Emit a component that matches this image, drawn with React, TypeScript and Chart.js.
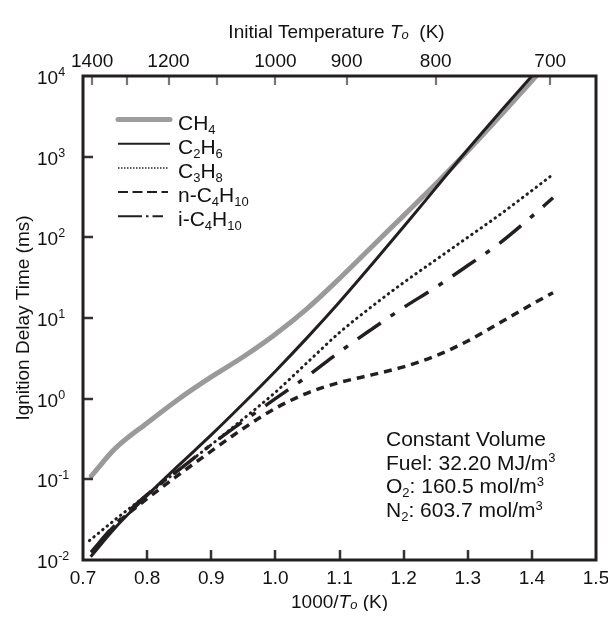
import React, { useEffect, useRef } from 'react';
import { Chart, registerables } from 'chart.js';

Chart.register(...registerables);

// ---- axes ----
const xTicks = [0.7, 0.8, 0.9, 1.0, 1.1, 1.2, 1.3, 1.4, 1.5];
const yTicks = [0.01, 0.1, 1, 10, 100, 1000, 10000];
const yExponents = ['-2', '-1', '0', '1', '2', '3', '4'];
const topTempTicks = [1400, 1300, 1200, 1100, 1000, 900, 800, 700];
const topTempLabels = [1400, 1200, 1000, 900, 800, 700];

// ---- series (x = 1000/T0, y = ignition delay in ms) ----
const ch4X = [0.713, 0.75, 0.8, 0.85, 0.9, 0.95, 1.0, 1.05, 1.1, 1.15, 1.2, 1.25, 1.3, 1.35, 1.4, 1.42];
const ch4Y = [0.11, 0.24, 0.5, 1.0, 1.86, 3.31, 6.3, 13.2, 30.9, 75.9, 186, 457, 1175, 3162, 8710, 13180];

const c2h6X = [0.712, 0.75, 0.8, 0.85, 0.9, 0.95, 1.0, 1.05, 1.1, 1.15, 1.2, 1.25, 1.3, 1.35, 1.4, 1.41];
const c2h6Y = [0.011, 0.025, 0.063, 0.151, 0.355, 0.87, 2.19, 5.75, 15.8, 45.7, 135, 407, 1230, 3548, 10000, 12300];

const c3h8X = [0.71, 0.75, 0.8, 0.85, 0.9, 0.95, 1.0, 1.05, 1.1, 1.15, 1.2, 1.25, 1.3, 1.35, 1.4, 1.433];
const c3h8Y = [0.0174, 0.0316, 0.0646, 0.132, 0.269, 0.562, 1.2, 2.82, 6.6, 13.8, 27.5, 52.5, 100, 191, 380, 603];

const nC4X = [0.713, 0.75, 0.8, 0.85, 0.9, 0.95, 1.0, 1.05, 1.1, 1.15, 1.2, 1.25, 1.3, 1.35, 1.4, 1.433];
const nC4Y = [0.0123, 0.0269, 0.0575, 0.115, 0.224, 0.427, 0.759, 1.175, 1.585, 1.97, 2.48, 3.39, 5.19, 8.71, 14.8, 20.6];

const iC4X = [0.713, 0.75, 0.8, 0.85, 0.9, 0.95, 1.0, 1.05, 1.1, 1.15, 1.2, 1.25, 1.3, 1.35, 1.4, 1.433];
const iC4Y = [0.0126, 0.0275, 0.0646, 0.132, 0.269, 0.525, 1.0, 1.9, 3.8, 7.24, 13.5, 24, 44.7, 85, 182, 309];

const FONT = '"Liberation Sans", Arial, Helvetica, sans-serif';
const INK = '#231f20';

type Seg = { t: string; size: number; dy?: number; italic?: boolean };

function segFont(s: Seg) {
  return `${s.italic ? 'italic ' : ''}${s.size}px ${FONT}`;
}
function richWidth(ctx: CanvasRenderingContext2D, segs: Seg[]) {
  let w = 0;
  for (const s of segs) {
    ctx.font = segFont(s);
    w += ctx.measureText(s.t).width;
  }
  return w;
}
function drawRich(ctx: CanvasRenderingContext2D, x: number, y: number, segs: Seg[], align: 'left' | 'center' | 'right') {
  const w = richWidth(ctx, segs);
  let cx = align === 'left' ? x : align === 'center' ? x - w / 2 : x - w;
  ctx.textAlign = 'left';
  ctx.textBaseline = 'alphabetic';
  for (const s of segs) {
    ctx.font = segFont(s);
    ctx.fillText(s.t, cx, y + (s.dy || 0));
    cx += ctx.measureText(s.t).width;
  }
}

const M = 21; // annotation / legend font
const S = 13; // sub/superscript font

const legendItems: { segs: Seg[]; color: string; width: number; dash: number[]; end: number; cap: CanvasLineCap }[] = [
  { segs: [{ t: 'CH', size: M }, { t: '4', size: S, dy: 4 }], color: '#9d9d9d', width: 5, dash: [], end: 162, cap: 'round' },
  { segs: [{ t: 'C', size: M }, { t: '2', size: S, dy: 4 }, { t: 'H', size: M }, { t: '6', size: S, dy: 4 }], color: INK, width: 2, dash: [], end: 162, cap: 'butt' },
  { segs: [{ t: 'C', size: M }, { t: '3', size: S, dy: 4 }, { t: 'H', size: M }, { t: '8', size: S, dy: 4 }], color: INK, width: 1.5, dash: [1.5, 1.5], end: 160, cap: 'butt' },
  { segs: [{ t: 'n-C', size: M }, { t: '4', size: S, dy: 4 }, { t: 'H', size: M }, { t: '10', size: S, dy: 4 }], color: INK, width: 2, dash: [10, 4.5], end: 160, cap: 'butt' },
  { segs: [{ t: 'i-C', size: M }, { t: '4', size: S, dy: 4 }, { t: 'H', size: M }, { t: '10', size: S, dy: 4 }], color: INK, width: 2, dash: [24, 4, 2.5, 4], end: 155, cap: 'butt' },
];

const annotationLines: Seg[][] = [
  [{ t: 'Constant Volume', size: M }],
  [{ t: 'Fuel: 32.20 MJ/m', size: M }, { t: '3', size: S, dy: -7.5 }],
  [{ t: 'O', size: M }, { t: '2', size: S, dy: 4 }, { t: ': 160.5 mol/m', size: M }, { t: '3', size: S, dy: -7.5 }],
  [{ t: 'N', size: M }, { t: '2', size: S, dy: 4 }, { t: ': 603.7 mol/m', size: M }, { t: '3', size: S, dy: -7.5 }],
];

const decorPlugin = {
  id: 'decor',
  afterDraw(chart: any) {
    const ctx: CanvasRenderingContext2D = chart.ctx;
    const { left, right, top, bottom } = chart.chartArea;
    const xs = chart.scales.x;
    const xt = chart.scales.x2;
    const ys = chart.scales.y;
    ctx.save();

    // inward tick marks
    ctx.lineCap = 'butt';
    ctx.strokeStyle = '#333';
    ctx.lineWidth = 2.5;
    ctx.beginPath();
    for (const v of yTicks) {
      if (v === yTicks[0] || v === yTicks[yTicks.length - 1]) continue;
      const py = Math.round(ys.getPixelForValue(v));
      ctx.moveTo(left, py);
      ctx.lineTo(left + 10, py);
    }
    for (const v of xTicks) {
      if (v === xTicks[0] || v === xTicks[xTicks.length - 1]) continue;
      const px = Math.round(xs.getPixelForValue(v));
      ctx.moveTo(px, bottom);
      ctx.lineTo(px, bottom - 10);
    }
    ctx.stroke();
    ctx.strokeStyle = '#777';
    ctx.lineWidth = 2.2;
    ctx.beginPath();
    for (const T of topTempTicks) {
      const px = Math.round(xt.getPixelForValue(1000 / T));
      ctx.moveTo(px, top);
      ctx.lineTo(px, top + 9);
    }
    ctx.stroke();

    // frame
    ctx.strokeStyle = INK;
    ctx.lineWidth = 3;
    ctx.strokeRect(left, top, right - left, bottom - top);

    ctx.fillStyle = '#111';
    // bottom tick labels
    for (const v of xTicks) {
      drawRich(ctx, xs.getPixelForValue(v), 575.5, [{ t: v.toFixed(1), size: 19 }], 'center');
    }
    // top tick labels
    for (const T of topTempLabels) {
      drawRich(ctx, xt.getPixelForValue(1000 / T), 58.7, [{ t: String(T), size: 19 }], 'center');
    }
    // y tick labels
    yTicks.forEach((v, i) => {
      const py = ys.getPixelForValue(v);
      drawRich(ctx, 29, py + 8, [{ t: '10', size: 19 }, { t: yExponents[i], size: 12.5, dy: -8 }], 'left');
    });

    // axis titles
    const cx = (left + right) / 2;
    drawRich(ctx, cx, 600.3, [
      { t: '1000/', size: 19 },
      { t: 'T', size: 19, italic: true },
      { t: 'o', size: 13, italic: true, dy: 1 },
      { t: ' (K)', size: 19 },
    ], 'center');
    drawRich(ctx, cx - 3, 30.3, [
      { t: 'Initial Temperature ', size: 19 },
      { t: 'T', size: 19, italic: true },
      { t: 'o', size: 13, italic: true, dy: 1 },
      { t: '  (K)', size: 19 },
    ], 'center');
    ctx.save();
    ctx.translate(21, (top + bottom) / 2);
    ctx.rotate(-Math.PI / 2);
    drawRich(ctx, 0, 0, [{ t: 'Ignition Delay Time (ms)', size: 19 }], 'center');
    ctx.restore();

    // legend
    legendItems.forEach((it, i) => {
      const base = 121.5 + i * 24.2;
      const ly = base - 10;
      ctx.save();
      ctx.strokeStyle = it.color;
      ctx.lineWidth = it.width;
      ctx.lineCap = it.cap;
      ctx.setLineDash(it.dash);
      ctx.beginPath();
      ctx.moveTo(110, ly);
      ctx.lineTo(it.end, ly);
      ctx.stroke();
      ctx.restore();
      ctx.fillStyle = '#111';
      drawRich(ctx, 170, base, it.segs, 'left');
    });

    // annotation
    annotationLines.forEach((segs, i) => {
      drawRich(ctx, 378, 437.6 + i * 23.9, segs, 'left');
    });

    ctx.restore();
  },
};

function pts(xs: number[], ys: number[]) {
  return xs.map((x, i) => ({ x, y: ys[i] }));
}

export default function App() {
  const ref = useRef<HTMLCanvasElement | null>(null);
  useEffect(() => {
    if (!ref.current) return;
    const chart = new Chart(ref.current, {
      type: 'line',
      data: {
        datasets: [
          {
            label: 'CH4', data: pts(ch4X, ch4Y), borderColor: '#9a9a9a', borderWidth: 5,
            order: 10, cubicInterpolationMode: 'monotone', borderCapStyle: 'round',
          },
          {
            label: 'C2H6', data: pts(c2h6X, c2h6Y), borderColor: INK, borderWidth: 3,
            order: 0, cubicInterpolationMode: 'monotone',
          },
          {
            label: 'C3H8', data: pts(c3h8X, c3h8Y), borderColor: INK, borderWidth: 3,
            borderDash: [0.5, 5.2], borderCapStyle: 'round', order: 1, cubicInterpolationMode: 'monotone',
          },
          {
            label: 'n-C4H10', data: pts(nC4X, nC4Y), borderColor: INK, borderWidth: 3.5,
            borderDash: [8, 6], order: 2, cubicInterpolationMode: 'monotone',
          },
          {
            label: 'i-C4H10', data: pts(iC4X, iC4Y), borderColor: INK, borderWidth: 3.5,
            borderDash: [28, 12, 5, 12], order: 3, cubicInterpolationMode: 'monotone',
          },
        ] as any,
      },
      options: {
        animation: false,
        responsive: false,
        maintainAspectRatio: false,
        devicePixelRatio: 1,
        layout: { padding: { left: 75, top: 68, right: 12, bottom: 51 } },
        elements: { point: { radius: 0, hoverRadius: 0 } },
        plugins: { legend: { display: false }, tooltip: { enabled: false }, title: { display: false } },
        events: [],
        scales: {
          x: { type: 'linear', position: 'bottom', min: 0.7, max: 1.5, display: false },
          x2: { type: 'linear', position: 'top', min: 0.7, max: 1.5, display: false },
          y: { type: 'logarithmic', min: 0.01, max: 10000, display: false },
        },
      } as any,
      plugins: [decorPlugin],
    });
    return () => chart.destroy();
  }, []);
  return (
    <div style={{ width: 600, height: 603 }}>
      <canvas ref={ref} width={600} height={603} style={{ display: 'block', width: 600, height: 603 }} />
    </div>
  );
}
